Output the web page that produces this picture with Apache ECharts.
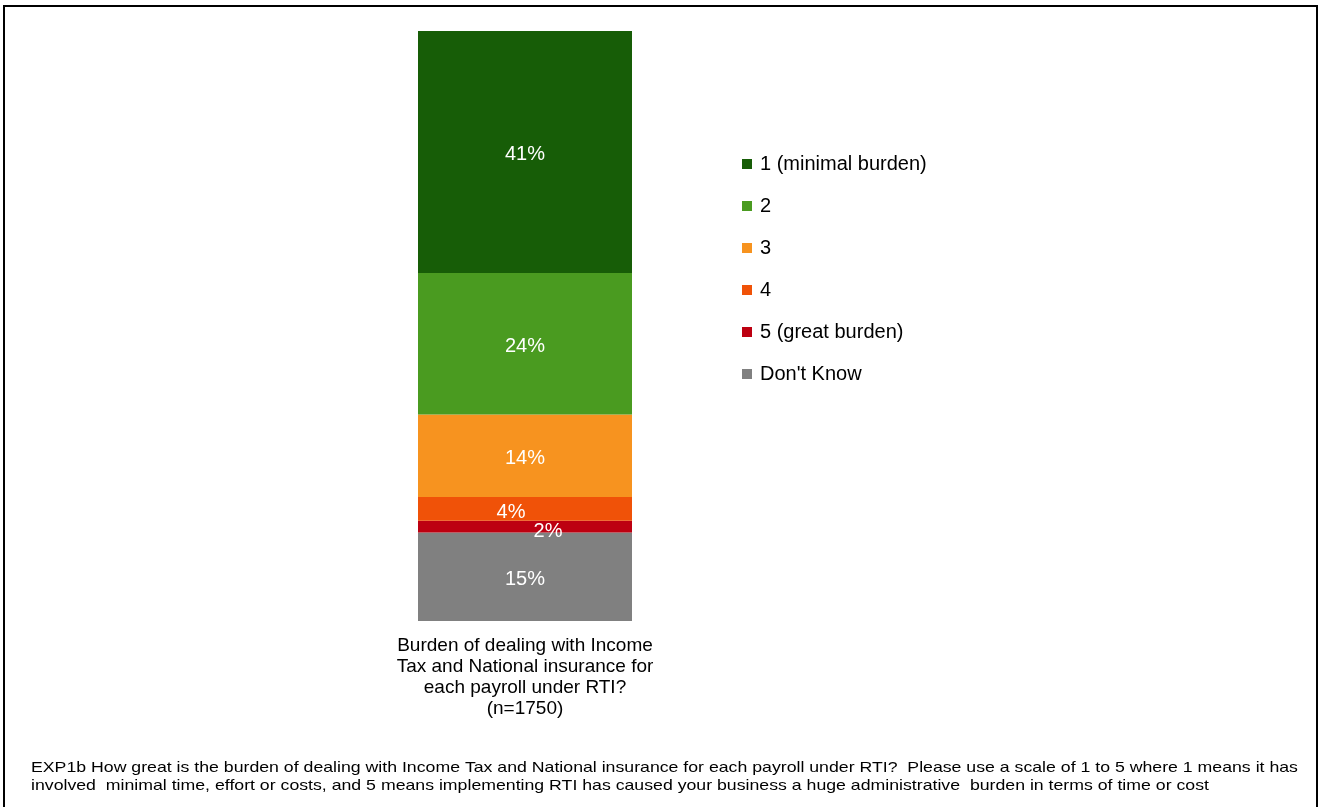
<!DOCTYPE html>
<html>
<head>
<meta charset="utf-8">
<script src="https://cdn.jsdelivr.net/npm/echarts@6/dist/echarts.min.js"></script>
<style>
  html, body { margin: 0; padding: 0; background: #fff; }
  #chart { width: 1319px; height: 807px; }
</style>
</head>
<body>
<div id="chart"></div>
<script>
// Survey responses: burden of RTI payroll reporting (percent of respondents)
const categories = ['Burden of dealing with Income\nTax and National insurance for\neach payroll under RTI?\n(n=1750)'];
const seriesNames = ['1 (minimal burden)', '2', '3', '4', '5 (great burden)', "Don't Know"];
const seriesValues = [41, 24, 14, 4, 2, 15];
const seriesColors = ['#175D07', '#4A9B20', '#F7931F', '#F05208', '#BD0011', '#808080'];
const footnote = 'EXP1b How great is the burden of dealing with Income Tax and National insurance for each payroll under RTI?  Please use a scale of 1 to 5 where 1 means it has\ninvolved  minimal time, effort or costs, and 5 means implementing RTI has caused your business a huge administrative  burden in terms of time or cost';

// Small nudges for labels on the thin segments
const labelOffsets = [[0, 3], [0, 3], [0, 3], [-14, 4], [23, 5], [0, 3]];

const font = '"Liberation Sans", Arial, sans-serif';

// Stack order: bottom first
const order = [5, 4, 3, 2, 1, 0];
const series = order.map(i => ({
  name: seriesNames[i],
  type: 'bar',
  stack: 'total',
  barWidth: 214,
  data: [seriesValues[i]],
  itemStyle: { color: seriesColors[i] },
  label: {
    show: true,
    position: 'inside',
    offset: labelOffsets[i],
    formatter: p => p.value + '%',
    color: '#fff',
    fontSize: 20,
    fontFamily: font
  }
}));

const chart = echarts.init(document.getElementById('chart'), null, { renderer: 'canvas' });
chart.setOption({
  animation: false,
  backgroundColor: '#fff',
  grid: { left: 418, top: 31, width: 214, height: 590, containLabel: false },
  xAxis: {
    type: 'category',
    data: categories,
    axisLine: { show: false },
    axisTick: { show: false },
    axisLabel: {
      margin: 14,
      color: '#000',
      fontSize: 19,
      lineHeight: 21,
      fontFamily: font,
      align: 'center'
    }
  },
  yAxis: {
    type: 'value',
    min: 0,
    max: 100,
    show: false,
    splitLine: { show: false }
  },
  legend: {
    orient: 'vertical',
    left: 737,
    top: 149,
    icon: 'rect',
    itemWidth: 10,
    itemHeight: 10,
    itemGap: 22,
    data: seriesNames,
    textStyle: { color: '#000', fontSize: 20, lineHeight: 20, fontFamily: font, padding: [0, 0, 0, 3] }
  },
  series: series,
  graphic: [
    {
      type: 'rect',
      shape: { x: 4, y: 6, width: 1313, height: 820 },
      style: { fill: null, stroke: '#000', lineWidth: 2 },
      silent: true
    },
    {
      type: 'text',
      x: 31,
      y: 759,
      scaleX: 1.18,
      style: {
        x: 0,
        y: 0,
        text: footnote,
        fill: '#000',
        fontSize: 15,
        lineHeight: 18,
        verticalAlign: 'top',
        fontFamily: font
      }
    }
  ]
});
</script>
</body>
</html>
